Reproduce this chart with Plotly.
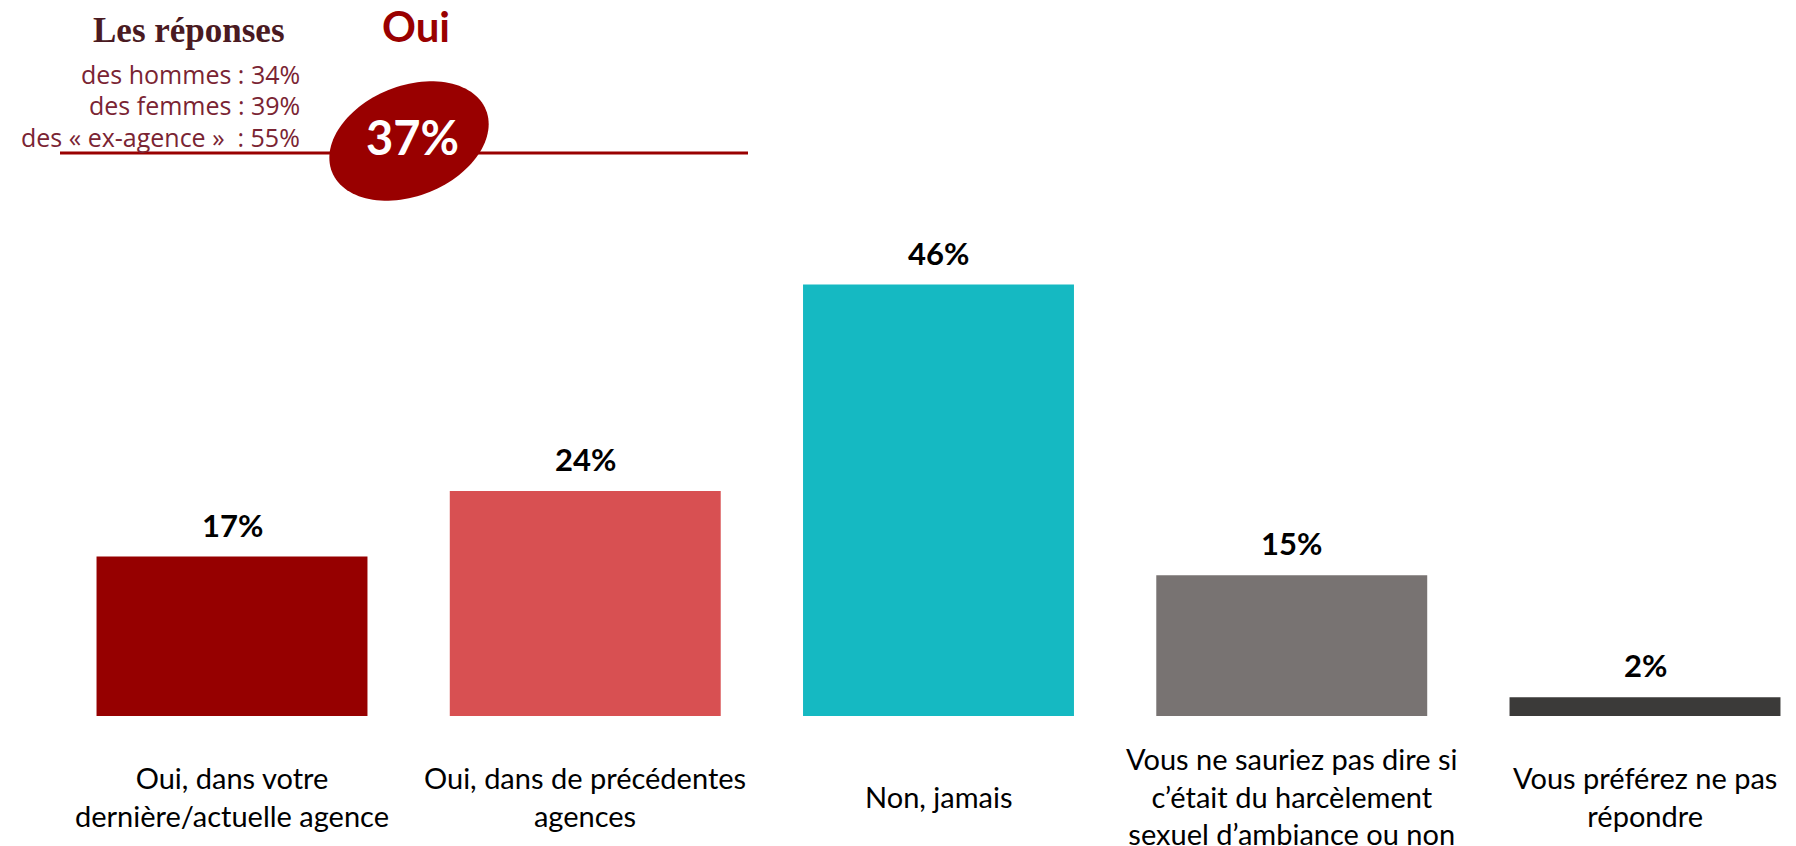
import numpy as np
import plotly.graph_objects as go

# ---------------- data ----------------
categories = [
    "Oui, dans votre dernière/actuelle agence",
    "Oui, dans de précédentes agences",
    "Non, jamais",
    "Vous ne sauriez pas dire si c’était du harcèlement sexuel d’ambiance ou non",
    "Vous préférez ne pas répondre",
]
tick_labels = [
    "Oui, dans votre<br>dernière/actuelle agence",
    "Oui, dans de précédentes<br>agences",
    "Non, jamais",
    "Vous ne sauriez pas dire si<br>c’était du harcèlement<br>sexuel d’ambiance ou non",
    "Vous préférez ne pas<br>répondre",
]
values = [17, 24, 46, 15, 2]
value_labels = ["17%", "24%", "46%", "15%", "2%"]
bar_colors = ["#960000", "#D85052", "#15B9C2", "#787372", "#3B3A39"]

header_title = "Les réponses"
header_lines = ["des hommes : 34%", "des femmes : 39%", "des « ex-agence »  : 55%"]
oui_label = "Oui"
oui_total = "37%"

# ---------------- geometry ----------------
OFF = 8  # page body margin
W, H = 1796 - OFF, 846 - OFF
BASE_Y = 716 - OFF          # zero line, figure pixels
TOP_Y = 200 - OFF
M_T, M_B = TOP_Y, H - BASE_Y
PLOT_H = H - M_T - M_B
PX_PER_PCT = 9.38

# category centres in window px: 232 + 353.25*i ; figure px = window - OFF
x_lo = (0 - (232 - OFF)) / 353.25
x_hi = (W - (232 - OFF)) / 353.25


def pxx(px):
    return (px - OFF) / W


def pxy(py):
    return (BASE_Y - (py - OFF)) / PLOT_H


LABEL_FONT = "Lato, sans-serif"

fig = go.Figure()
fig.add_trace(go.Bar(
    x=categories, y=values,
    marker=dict(color=bar_colors, line=dict(width=0)),
    width=0.767,
    hoverinfo="skip",
))

annotations = []
for c, v, lab in zip(categories, values, value_labels):
    annotations.append(dict(
        x=c, y=v, xref="x", yref="y", text=f"<b>{lab}</b>", showarrow=False,
        yanchor="middle", yshift=32,
        font=dict(family=LABEL_FONT, size=31, color="#000000"),
    ))
for c, t in zip(categories, tick_labels):
    annotations.append(dict(
        x=c, y=0, xref="x", yref="y", text=t, showarrow=False,
        yanchor="middle", yshift=-80, align="center",
        font=dict(family=LABEL_FONT, size=29, color="#000000"),
    ))

# header
annotations.append(dict(
    x=pxx(287), y=pxy(30), xref="paper", yref="paper", text=f"<b>{header_title}</b>",
    showarrow=False, xanchor="right", yanchor="middle",
    font=dict(family="Liberation Serif, serif", size=35, color="#4A1A22"),
))
for i, line in enumerate(header_lines):
    annotations.append(dict(
        x=pxx(302), y=pxy(74 + 31.5 * i), xref="paper", yref="paper", text=line,
        showarrow=False, xanchor="right", yanchor="middle",
        font=dict(family="Open Sans, sans-serif", size=25, color="#7A2433"),
    ))
annotations.append(dict(
    x=pxx(416), y=pxy(26), xref="paper", yref="paper", text=f"<b>{oui_label}</b>",
    showarrow=False, xanchor="center", yanchor="middle",
    font=dict(family="Lato, sans-serif", size=42, color="#990000"),
))
annotations.append(dict(
    x=pxx(412), y=pxy(137), xref="paper", yref="paper", text=f"<b>{oui_total}</b>",
    showarrow=False, xanchor="center", yanchor="middle",
    font=dict(family="Lato, sans-serif", size=47, color="#FFFFFF"),
))

# rotated ellipse path
cx, cy, a, b, ang = 409, 141, 83, 55, np.deg2rad(22)
t = np.linspace(0, 2 * np.pi, 120, endpoint=False)
ex = cx + a * np.cos(t) * np.cos(ang) + b * np.sin(t) * np.sin(ang)
ey = cy - a * np.cos(t) * np.sin(ang) + b * np.sin(t) * np.cos(ang)
path = "M " + " L ".join(f"{pxx(x):.5f},{pxy(y):.5f}" for x, y in zip(ex, ey)) + " Z"

shapes = [
    dict(type="line", xref="paper", yref="paper", x0=pxx(60), x1=pxx(748),
         y0=pxy(153), y1=pxy(153), line=dict(color="#990000", width=3)),
    dict(type="path", xref="paper", yref="paper", path=path,
         fillcolor="#990000", line=dict(width=0)),
]

fig.update_layout(
    width=W, height=H,
    margin=dict(l=0, r=0, t=M_T, b=M_B),
    paper_bgcolor="white", plot_bgcolor="white",
    showlegend=False,
    xaxis=dict(type="category", range=[x_lo, x_hi], showticklabels=False,
               showgrid=False, zeroline=False, showline=False, ticks=""),
    yaxis=dict(range=[0, PLOT_H / PX_PER_PCT], showticklabels=False, showgrid=False,
               zeroline=False, showline=False, ticks=""),
    annotations=annotations,
    shapes=shapes,
)

fig.write_html("out.html")
